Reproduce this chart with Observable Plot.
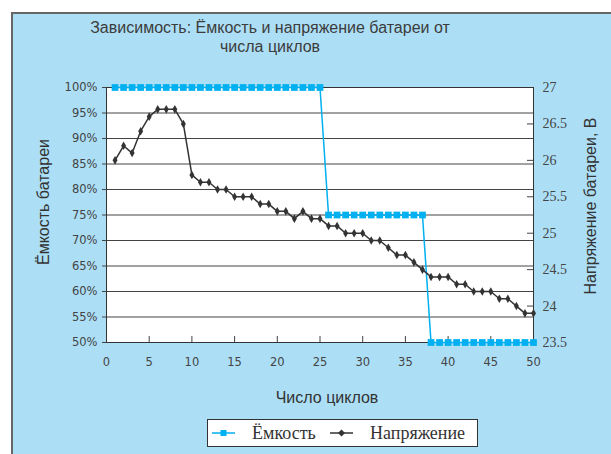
<!DOCTYPE html>
<html><head><meta charset="utf-8">
<script src="https://cdn.jsdelivr.net/npm/d3@7"></script>
<script src="https://cdn.jsdelivr.net/npm/@observablehq/plot@0.6"></script>
<style>
body{margin:0;background:#fff;}
#wrap{position:relative;width:611px;height:454px;overflow:hidden;}
#box{position:absolute;left:11px;top:12px;width:600px;height:442px;background:#acdff6;border-left:2px solid #666;border-top:2px solid #666;box-sizing:border-box;}
#title{position:absolute;left:0;width:540px;top:18px;text-align:center;font-family:"Liberation Sans",Arial,sans-serif;font-size:16px;color:#3c3c3c;line-height:19px;}
#chart{position:absolute;left:0;top:0;}
#legend{position:absolute;left:207px;top:419px;}
</style></head>
<body>
<div id="wrap">
  <div id="box"></div>
  <div id="title">Зависимость: Ёмкость и напряжение батареи от<br>числа циклов</div>
  <div id="chart"></div>
  <div id="legend"></div>
</div>
<script>
const cycles = [1,2,3,4,5,6,7,8,9,10,11,12,13,14,15,16,17,18,19,20,21,22,23,24,25,26,27,28,29,30,31,32,33,34,35,36,37,38,39,40,41,42,43,44,45,46,47,48,49,50];
const capacity = [100,100,100,100,100,100,100,100,100,100,100,100,100,100,100,100,100,100,100,100,100,100,100,100,100,
  75,75,75,75,75,75,75,75,75,75,75,75,
  50,50,50,50,50,50,50,50,50,50,50,50,50];
const voltage = [26.0,26.2,26.1,26.4,26.6,26.7,26.7,26.7,26.5,25.8,
  25.7,25.7,25.6,25.6,25.5,25.5,25.5,25.4,25.4,25.3,
  25.3,25.2,25.3,25.2,25.2,25.1,25.1,25.0,25.0,25.0,
  24.9,24.9,24.8,24.7,24.7,24.6,24.5,24.4,24.4,24.4,
  24.3,24.3,24.2,24.2,24.2,24.1,24.1,24.0,23.9,23.9];
const xTicks = [0,5,10,15,20,25,30,35,40,45,50];
const capTicks = [50,55,60,65,70,75,80,85,90,95,100];
const voltTicks = [23.5,24,24.5,25,25.5,26,26.5,27];
const seriesNames = ["Ёмкость","Напряжение"];
const colors = ["#00b0f0","#333333"];
const titleX = "Число циклов";
const titleYLeft = "Ёмкость батареи";
const titleYRight = "Напряжение батареи, В";

const vMin = 23.5, vMax = 27, cMin = 50, cMax = 100;
const toCap = v => cMin + (v - vMin) / (vMax - vMin) * (cMax - cMin);
const fromCap = c => vMin + (c - cMin) / (cMax - cMin) * (vMax - vMin);

const capData = cycles.map((c,i) => ({c, v: capacity[i]}));
const voltData = cycles.map((c,i) => ({c, v: voltage[i]}));

const labelStyle = {text: d => d, fontSize: 16, fontFamily: "Liberation Sans", fill: "#333", textAnchor: "middle", lineAnchor: "middle"};

const chart = Plot.plot({
  width: 611, height: 454,
  marginLeft: 106, marginRight: 78, marginTop: 87, marginBottom: 112,
  style: {background: "transparent", fontFamily: "DejaVu Sans", fontSize: "11.5px", color: "#444"},
  x: {domain: [0, 50]},
  y: {domain: [cMin, cMax]},
  marks: [
    Plot.frame({fill: "white", stroke: null}),
    Plot.ruleY(capTicks, {y: d => d, stroke: "#444", strokeWidth: 1}),
    Plot.tickX(xTicks, {x: d => d, stroke: "#444", insetTop: 249}),
    Plot.tickY(voltTicks, {y: toCap, stroke: "#444", insetLeft: 421}),
    Plot.axisY({ticks: capTicks, tickFormat: d => d + "%", tickSize: 4, tickPadding: 5, label: null, stroke: "#444"}),
    Plot.axisX({ticks: xTicks, tickSize: 0, tickPadding: 15, label: null}),
    Plot.axisY({anchor: "right", ticks: voltTicks.map(toCap), tickFormat: c => String(Math.round(fromCap(c) * 10) / 10),
      tickSize: 0, tickPadding: 9, label: null, fontFamily: "Liberation Serif", fontSize: 14}),
    Plot.frame({stroke: "#333"}),
    Plot.line(capData, {x: "c", y: "v", stroke: colors[0], strokeWidth: 1.5}),
    Plot.dot(capData, {x: "c", y: "v", symbol: "square", r: 3.8, fill: colors[0], stroke: null}),
    Plot.line(voltData, {x: "c", y: d => toCap(d.v), stroke: colors[1], strokeWidth: 1.5}),
    Plot.dot(voltData, {x: "c", y: d => toCap(d.v), symbol: "diamond", r: 2.6, fill: colors[1], stroke: null}),
    Plot.text([titleX], {...labelStyle, frameAnchor: "bottom", dx: 7, dy: 55}),
    Plot.text([titleYLeft], {...labelStyle, frameAnchor: "left", dx: -63, dy: -13, rotate: -90}),
    Plot.text([titleYRight], {...labelStyle, frameAnchor: "right", dx: 57, dy: -9, rotate: -90})
  ]
});
document.getElementById("chart").appendChild(chart);

// legend
const lg = d3.select("#legend").append("svg").attr("width", 271).attr("height", 28);
lg.append("rect").attr("x", 0.5).attr("y", 0.5).attr("width", 270).attr("height", 27).attr("fill", "#fff").attr("stroke", "#333");
const items = [{x: 5, textX: 45}, {x: 123, textX: 163}];
seriesNames.forEach((name, i) => {
  const it = items[i];
  lg.append("line").attr("x1", it.x).attr("x2", it.x + 23).attr("y1", 14).attr("y2", 14).attr("stroke", colors[i]).attr("stroke-width", 1.5);
  if (i === 0) lg.append("rect").attr("x", it.x + 8.5).attr("y", 11).attr("width", 6).attr("height", 6).attr("fill", colors[i]);
  else lg.append("path").attr("d", `M${it.x+11.5},10.5 l3.5,3.5 l-3.5,3.5 l-3.5,-3.5z`).attr("fill", colors[i]);
  lg.append("text").attr("x", it.textX).attr("y", 20).attr("font-family", "Liberation Serif").attr("font-size", 18).attr("fill", "#333").text(name);
});
</script>
</body></html>
